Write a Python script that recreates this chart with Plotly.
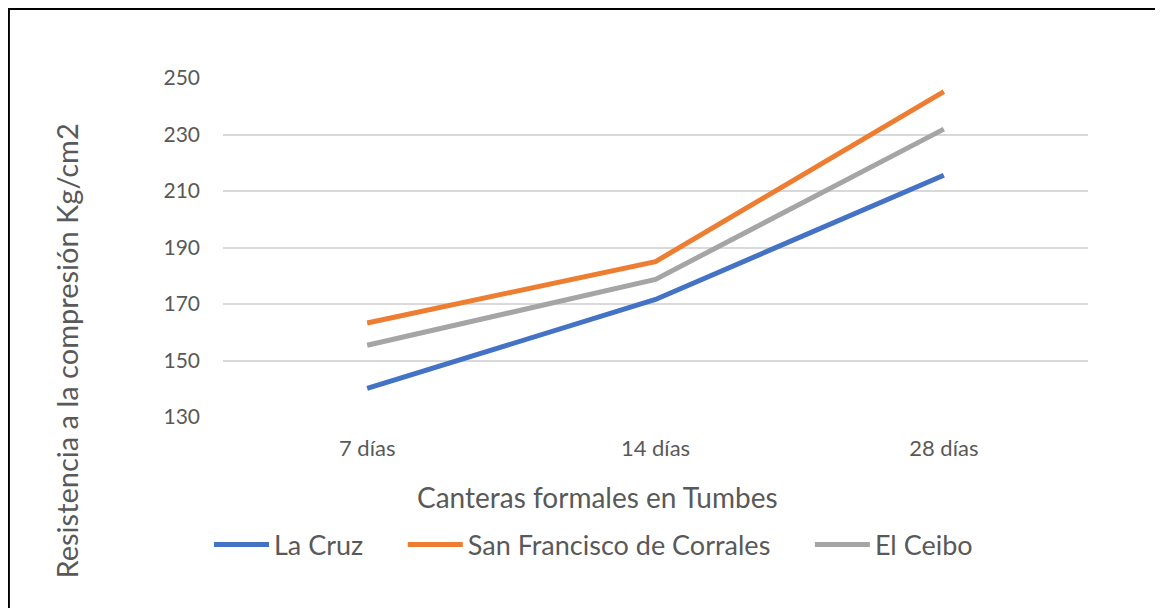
import plotly.graph_objects as go

categories = ["7 días", "14 días", "28 días"]
la_cruz = [140.1, 171.6, 215.6]
san_francisco = [163.3, 185.0, 245.2]
el_ceibo = [155.4, 178.7, 231.9]
series_names = ["La Cruz", "San Francisco de Corrales", "El Ceibo"]
colors = ["#4472C4", "#ED7D31", "#A5A5A5"]
y_ticks = [130, 150, 170, 190, 210, 230, 250]

FONT = "Lato"
TXT = "#595959"
PAD = "\u00a0" * 5

fig = go.Figure()
for name, vals, col in zip(series_names, [la_cruz, san_francisco, el_ceibo], colors):
    fig.add_trace(go.Scatter(
        x=categories, y=vals, mode="lines", name=name + PAD,
        line=dict(color=col, width=5),
    ))

fig.update_layout(
    width=1147, height=600,
    margin=dict(l=215, r=67, t=70, b=191),
    paper_bgcolor="white", plot_bgcolor="white",
    font=dict(family=FONT, color=TXT, size=21),
    showlegend=True,
    legend=dict(
        orientation="h", x=-0.0162, xanchor="left", y=-0.3776, yanchor="middle",
        font=dict(size=27, color=TXT), itemwidth=55,
    ),
    xaxis=dict(
        type="category", range=[-0.5, 2.5], showgrid=False, showline=False,
        ticks="", tickfont=dict(size=22, color=TXT), ticklabelstandoff=16,
    ),
    yaxis=dict(
        range=[130, 250], tickvals=y_ticks, showgrid=True, gridcolor="#D9D9D9",
        gridwidth=1.5, zeroline=False, showline=False, ticks="",
        tickfont=dict(size=21, color=TXT), ticklabelstandoff=22,
    ),
    annotations=[
        dict(text="Resistencia a la compresión Kg/cm2", xref="paper", yref="paper",
             x=-0.1798, y=0.1947, textangle=-90, showarrow=False,
             font=dict(size=29, color=TXT), xanchor="center", yanchor="middle"),
        dict(text="Canteras formales en Tumbes", xref="paper", yref="paper",
             x=0.4335, y=-0.236, showarrow=False,
             font=dict(size=28, color=TXT), xanchor="center", yanchor="middle"),
    ],
    shapes=[
        dict(type="rect", xref="paper", yref="paper", x0=-0.2475, y0=-0.7,
             x1=1.2, y1=1.2035, line=dict(color="black", width=2),
             fillcolor="rgba(0,0,0,0)", layer="below"),
    ],
)

fig.write_html("out.html")
